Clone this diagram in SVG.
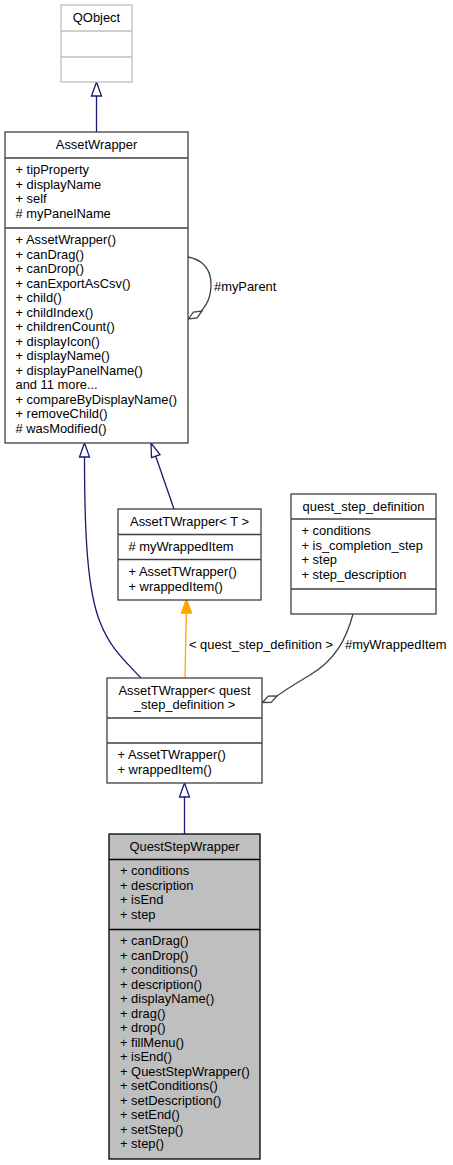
<svg xmlns="http://www.w3.org/2000/svg" width="453" height="1165" viewBox="0 0 453 1165">
<style>
text{font-family:"Liberation Sans",Arial,sans-serif;font-size:12.9px;fill:#000}
.c{text-anchor:middle}
.box{fill:#fff;stroke:#404040;stroke-width:1.3}
.qo{fill:#fff;stroke:#bfbfbf;stroke-width:1.3}
.dv{stroke:#404040;stroke-width:1.3}
.dq{stroke:#bfbfbf;stroke-width:1.3}
.inh{fill:none;stroke:#191970;stroke-width:1.3}
.inhh{fill:#fff;stroke:#191970;stroke-width:1.3}
.agg{fill:none;stroke:#404040;stroke-width:1.3}
.aggh{fill:#fff;stroke:#404040;stroke-width:1.3}
.tpl{fill:none;stroke:#ffa500;stroke-width:1.3}
.tplh{fill:#ffa500;stroke:#ffa500;stroke-width:1.3}
</style>
<rect width="453" height="1165" fill="#fff"/>
<g id="connectors">
<path class="inh" d="M96.5,96 L96.5,132"/>
<polygon class="inhh" points="96.5,82 101.5,96 91.5,96"/>
<path class="agg" d="M188,257 C199,259 211,266 211,284 C211,301 204,307 201.5,311"/>
<polygon class="aggh" points="188.5,319 193.4,312 202,311 197,318"/>
<text x="214" y="291">#myParent</text>
<path class="inh" d="M174,509 L155.7,456.2"/>
<polygon class="inhh" points="151,443 160,454.7 151.5,457.7"/>
<path class="inh" d="M84.5,457 C84.5,530 87,590 100,622 C110,648 124,660 141,678"/>
<polygon class="inhh" points="84.5,443 89.5,457 79.5,457"/>
<path class="tpl" d="M185,678 L186.3,613"/>
<polygon class="tplh" points="186.5,599 191.5,613 181.5,613"/>
<text x="189" y="649">&lt; quest_step_definition &gt;</text>
<path class="agg" d="M353,614 C346,640 335,660 310,675 C295,684 285,690 277,696"/>
<polygon class="aggh" points="262.5,702.5 268.3,696.1 277,696 271.2,702.4"/>
<text x="345" y="649">#myWrappedItem</text>
<path class="inh" d="M184.5,797 L184.5,834"/>
<polygon class="inhh" points="184.5,783 189.5,797 179.5,797"/>
</g>
<g id="QObject">
<rect class="qo" x="61" y="5" width="71" height="77"/>
<line class="dq" x1="61" y1="31" x2="132" y2="31"/>
<line class="dq" x1="61" y1="57" x2="132" y2="57"/>
<text class="c" x="96.5" y="22">QObject</text>
</g>
<g id="AssetWrapper">
<rect class="box" x="5" y="132" width="183" height="311"/>
<line class="dv" x1="5" y1="158" x2="188" y2="158"/>
<line class="dv" x1="5" y1="228" x2="188" y2="228"/>
<text class="c" x="96.5" y="149">AssetWrapper</text>
<text x="15.5" y="174">+ tipProperty</text>
<text x="15.5" y="188.5">+ displayName</text>
<text x="15.5" y="203">+ self</text>
<text x="15.5" y="217.5"># myPanelName</text>
<text x="15.5" y="244">+ AssetWrapper()</text>
<text x="15.5" y="258.5">+ canDrag()</text>
<text x="15.5" y="273">+ canDrop()</text>
<text x="15.5" y="287.5">+ canExportAsCsv()</text>
<text x="15.5" y="302">+ child()</text>
<text x="15.5" y="316.5">+ childIndex()</text>
<text x="15.5" y="331">+ childrenCount()</text>
<text x="15.5" y="345.5">+ displayIcon()</text>
<text x="15.5" y="360">+ displayName()</text>
<text x="15.5" y="374.5">+ displayPanelName()</text>
<text x="15.5" y="389">and 11 more...</text>
<text x="15.5" y="403.5">+ compareByDisplayName()</text>
<text x="15.5" y="418">+ removeChild()</text>
<text x="15.5" y="432.5"># wasModified()</text>
</g>
<g id="AssetTWrapperT">
<rect class="box" x="118" y="509" width="143" height="91"/>
<line class="dv" x1="118" y1="534.5" x2="261" y2="534.5"/>
<line class="dv" x1="118" y1="559.5" x2="261" y2="559.5"/>
<text class="c" x="189.5" y="526">AssetTWrapper&lt; T &gt;</text>
<text x="128.5" y="551"># myWrappedItem</text>
<text x="128.5" y="576">+ AssetTWrapper()</text>
<text x="128.5" y="590.5">+ wrappedItem()</text>
</g>
<g id="quest_step_definition">
<rect class="box" x="291" y="494" width="145" height="120"/>
<line class="dv" x1="291" y1="519" x2="436" y2="519"/>
<line class="dv" x1="291" y1="589" x2="436" y2="589"/>
<text class="c" x="363.5" y="511">quest_step_definition</text>
<text x="301.5" y="535">+ conditions</text>
<text x="301.5" y="549.5">+ is_completion_step</text>
<text x="301.5" y="564">+ step</text>
<text x="301.5" y="578.5">+ step_description</text>
</g>
<g id="AssetTWrapperQSD">
<rect class="box" x="107" y="678" width="155" height="105"/>
<line class="dv" x1="107" y1="718" x2="262" y2="718"/>
<line class="dv" x1="107" y1="743" x2="262" y2="743"/>
<text class="c" x="184.5" y="694.5">AssetTWrapper&lt; quest</text>
<text class="c" x="184.5" y="709">_step_definition &gt;</text>
<text x="117.5" y="759">+ AssetTWrapper()</text>
<text x="117.5" y="773.5">+ wrappedItem()</text>
</g>
<g id="QuestStepWrapper">
<rect x="109" y="834" width="151" height="325" fill="#bfbfbf" stroke="#000" stroke-width="1.3"/>
<line x1="109" y1="859.5" x2="260" y2="859.5" stroke="#000" stroke-width="1.3"/>
<line x1="109" y1="929.5" x2="260" y2="929.5" stroke="#000" stroke-width="1.3"/>
<text class="c" x="184.5" y="851">QuestStepWrapper</text>
<text x="120" y="875">+ conditions</text>
<text x="120" y="889.5">+ description</text>
<text x="120" y="904">+ isEnd</text>
<text x="120" y="918.5">+ step</text>
<text x="120" y="945">+ canDrag()</text>
<text x="120" y="959.5">+ canDrop()</text>
<text x="120" y="974">+ conditions()</text>
<text x="120" y="988.5">+ description()</text>
<text x="120" y="1003">+ displayName()</text>
<text x="120" y="1017.5">+ drag()</text>
<text x="120" y="1032">+ drop()</text>
<text x="120" y="1046.5">+ fillMenu()</text>
<text x="120" y="1061">+ isEnd()</text>
<text x="120" y="1075.5">+ QuestStepWrapper()</text>
<text x="120" y="1090">+ setConditions()</text>
<text x="120" y="1104.5">+ setDescription()</text>
<text x="120" y="1119">+ setEnd()</text>
<text x="120" y="1133.5">+ setStep()</text>
<text x="120" y="1148">+ step()</text>
</g>
</svg>
